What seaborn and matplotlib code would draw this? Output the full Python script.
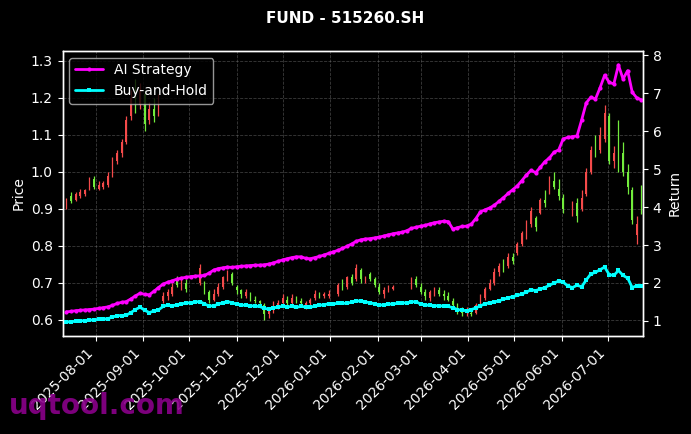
import numpy as np
import pandas as pd
import matplotlib
matplotlib.use("Agg")
import matplotlib.pyplot as plt
import matplotlib.dates as mdates
import seaborn as sns

# ---------------- data ----------------
start_date = "2025-07-13"
n_points = 126
step = "3D"

opens = [0.905, 0.935, 0.925, 0.935, 0.94, 0.955, 0.98, 0.955, 0.96, 0.965,
         0.99, 1.03, 1.05, 1.08, 1.15, 1.2, 1.18, 1.21, 1.14, 1.17,
         1.16, 0.65, 0.665, 0.67, 0.71, 0.695, 0.70, np.nan, np.nan, 0.70,
         0.70, 0.675, 0.655, 0.67, 0.69, 0.715, 0.725, 0.69, 0.68, 0.665,
         0.67, 0.655, 0.65, 0.64, 0.615, 0.625, 0.635, 0.645, 0.655, 0.645,
         0.66, 0.65, 0.64, 0.645, 0.66, 0.67, 0.665, 0.665, np.nan, 0.67,
         0.695, 0.69, 0.715, 0.71, 0.735, 0.705, 0.725, 0.71, 0.69, 0.67,
         0.68, 0.685, np.nan, np.nan, np.nan, 0.69, 0.71, 0.69, 0.675, 0.66,
         0.67, 0.68, 0.67, 0.665, 0.65, 0.635, 0.625, 0.618, 0.62, 0.62,
         0.64, 0.66, 0.685, 0.70, 0.73, 0.755, 0.745, 0.77, 0.78, 0.805,
         0.835, 0.86, 0.875, 0.89, 0.925, 0.95, 0.975, 0.955, 0.93, np.nan,
         0.89, 0.915, 0.90, 0.94, 1.0, 1.06, 1.06, 1.09, 1.15, 1.03,
         1.13, 1.05, 1.0, 0.95, 0.83, 0.95]

closes = [0.925, 0.92, 0.94, 0.945, 0.95, 0.975, 0.96, 0.965, 0.97, 0.99,
          1.03, 1.05, 1.08, 1.14, 1.2, 1.18, 1.22, 1.13, 1.17, 1.15,
          1.19, 0.665, 0.675, 0.69, 0.695, 0.70, 0.685, np.nan, np.nan, 0.74,
          0.675, 0.655, 0.67, 0.69, 0.715, 0.725, 0.70, 0.68, 0.67, 0.675,
          0.66, 0.65, 0.645, 0.615, 0.625, 0.64, 0.645, 0.66, 0.645, 0.66,
          0.65, 0.645, 0.645, 0.655, 0.67, 0.665, 0.67, 0.67, np.nan, 0.695,
          0.69, 0.715, 0.70, 0.74, 0.71, 0.715, 0.71, 0.695, 0.675, 0.68,
          0.69, 0.69, np.nan, np.nan, np.nan, 0.71, 0.695, 0.675, 0.665, 0.675,
          0.685, 0.67, 0.665, 0.655, 0.64, 0.625, 0.62, 0.625, 0.615, 0.64,
          0.665, 0.685, 0.70, 0.73, 0.745, 0.74, 0.77, 0.76, 0.805, 0.835,
          0.86, 0.895, 0.85, 0.925, 0.915, 0.985, 0.96, 0.935, 0.90, np.nan,
          0.91, 0.88, 0.93, 1.0, 1.06, 1.05, 1.1, 1.16, 1.03, 1.05,
          1.02, 1.0, 0.96, 0.87, 0.86, 0.90]

highs = [0.93, 0.945, 0.945, 0.955, 0.955, 0.985, 0.99, 0.975, 0.975, 1.0,
         1.04, 1.06, 1.09, 1.15, 1.22, 1.25, 1.24, 1.22, 1.19, 1.2,
         1.21, 0.675, 0.685, 0.70, 0.72, 0.715, 0.71, np.nan, np.nan, 0.75,
         0.705, 0.68, 0.685, 0.70, 0.72, 0.735, 0.73, 0.695, 0.685, 0.685,
         0.675, 0.665, 0.655, 0.645, 0.635, 0.65, 0.655, 0.67, 0.665, 0.67,
         0.665, 0.66, 0.65, 0.66, 0.68, 0.675, 0.675, 0.68, np.nan, 0.70,
         0.71, 0.72, 0.725, 0.75, 0.74, 0.72, 0.73, 0.715, 0.70, 0.69,
         0.695, 0.695, np.nan, np.nan, np.nan, 0.715, 0.72, 0.70, 0.685, 0.68,
         0.69, 0.69, 0.68, 0.675, 0.66, 0.645, 0.635, 0.635, 0.632, 0.645,
         0.67, 0.69, 0.71, 0.74, 0.755, 0.765, 0.78, 0.78, 0.81, 0.84,
         0.87, 0.905, 0.88, 0.93, 0.95, 0.99, 1.0, 0.98, 0.94, np.nan,
         0.92, 0.93, 0.95, 1.01, 1.07, 1.10, 1.12, 1.18, 1.16, 1.07,
         1.14, 1.08, 1.02, 0.96, 0.88, 0.965]

lows = [0.90, 0.915, 0.92, 0.93, 0.935, 0.95, 0.955, 0.95, 0.955, 0.96,
        0.985, 1.02, 1.04, 1.075, 1.14, 1.16, 1.17, 1.11, 1.13, 1.135,
        1.15, 0.645, 0.655, 0.665, 0.69, 0.68, 0.675, np.nan, np.nan, 0.695,
        0.67, 0.645, 0.65, 0.665, 0.685, 0.705, 0.695, 0.67, 0.66, 0.66,
        0.65, 0.645, 0.635, 0.60, 0.605, 0.62, 0.63, 0.64, 0.64, 0.64,
        0.645, 0.635, 0.63, 0.64, 0.655, 0.66, 0.66, 0.66, np.nan, 0.665,
        0.68, 0.685, 0.695, 0.705, 0.70, 0.70, 0.705, 0.69, 0.67, 0.66,
        0.675, 0.68, np.nan, np.nan, np.nan, 0.685, 0.69, 0.67, 0.655, 0.65,
        0.665, 0.665, 0.655, 0.65, 0.63, 0.615, 0.61, 0.612, 0.61, 0.617,
        0.635, 0.655, 0.68, 0.695, 0.72, 0.73, 0.74, 0.75, 0.775, 0.80,
        0.82, 0.85, 0.84, 0.885, 0.905, 0.94, 0.955, 0.925, 0.89, np.nan,
        0.88, 0.865, 0.895, 0.935, 0.995, 1.04, 1.05, 1.08, 1.02, 1.01,
        1.0, 0.99, 0.94, 0.86, 0.805, 0.885]

strategy_return = [1.24, 1.25, 1.27, 1.28, 1.29, 1.30, 1.31, 1.33, 1.35, 1.37,
                   1.41, 1.46, 1.49, 1.51, 1.58, 1.66, 1.73, 1.70, 1.69, 1.78,
                   1.88, 1.97, 2.02, 2.06, 2.10, 2.13, 2.15, 2.17, 2.18, 2.19,
                   2.20, 2.26, 2.34, 2.38, 2.40, 2.42, 2.41, 2.43, 2.44, 2.45,
                   2.46, 2.47, 2.47, 2.48, 2.50, 2.53, 2.57, 2.61, 2.64, 2.67,
                   2.69, 2.69, 2.65, 2.64, 2.67, 2.70, 2.74, 2.78, 2.82, 2.86,
                   2.91, 2.97, 3.03, 3.10, 3.14, 3.16, 3.17, 3.19, 3.21, 3.24,
                   3.27, 3.30, 3.32, 3.34, 3.38, 3.44, 3.47, 3.50, 3.52, 3.56,
                   3.59, 3.61, 3.63, 3.62, 3.42, 3.46, 3.49, 3.50, 3.55, 3.70,
                   3.88, 3.93, 3.98, 4.05, 4.15, 4.25, 4.36, 4.46, 4.56, 4.70,
                   4.85, 4.97, 4.91, 5.05, 5.20, 5.30, 5.45, 5.51, 5.80, 5.84,
                   5.86, 5.88, 6.30, 6.75, 6.90, 6.85, 7.15, 7.48, 7.29, 7.25,
                   7.75, 7.38, 7.60, 7.03, 6.88, 6.83]

buyhold_return = [0.97, 0.98, 0.99, 1.00, 1.01, 1.02, 1.03, 1.04, 1.05, 1.06,
                  1.10, 1.14, 1.14, 1.15, 1.22, 1.30, 1.36, 1.28, 1.22, 1.26,
                  1.29, 1.38, 1.42, 1.40, 1.42, 1.45, 1.47, 1.48, 1.50, 1.51,
                  1.45, 1.39, 1.40, 1.44, 1.48, 1.51, 1.48, 1.44, 1.42, 1.41,
                  1.40, 1.39, 1.38, 1.33, 1.31, 1.34, 1.37, 1.38, 1.37, 1.38,
                  1.36, 1.38, 1.37, 1.36, 1.39, 1.41, 1.43, 1.45, 1.45, 1.46,
                  1.46, 1.47, 1.49, 1.53, 1.52, 1.50, 1.48, 1.45, 1.42, 1.42,
                  1.44, 1.45, 1.46, 1.47, 1.48, 1.50, 1.51, 1.44, 1.42, 1.41,
                  1.40, 1.40, 1.39, 1.38, 1.35, 1.30, 1.28, 1.27, 1.30, 1.34,
                  1.40, 1.45, 1.48, 1.50, 1.53, 1.57, 1.61, 1.64, 1.67, 1.71,
                  1.76, 1.82, 1.80, 1.84, 1.88, 1.94, 2.00, 2.05, 2.02, 1.92,
                  1.88, 1.94, 1.90, 2.08, 2.24, 2.28, 2.35, 2.42, 2.22, 2.20,
                  2.33, 2.20, 2.13, 1.88, 1.93, 1.91]

# ---------------- styling ----------------
sns.set_theme(style="dark")
plt.rcParams.update({
    "figure.facecolor": "black",
    "axes.facecolor": "black",
    "savefig.facecolor": "black",
    "axes.edgecolor": "white",
    "text.color": "white",
    "axes.labelcolor": "white",
    "xtick.color": "white",
    "ytick.color": "white",
    "xtick.bottom": True,
    "ytick.left": True,
})
plt.rcParams["font.family"] = ["DejaVu Sans"]

dates = pd.date_range(start_date, periods=n_points, freq=step)
xnum = mdates.date2num(dates.to_pydatetime())

df = pd.DataFrame({"x": xnum, "open": opens, "close": closes,
                   "high": highs, "low": lows,
                   "strategy": strategy_return, "buyhold": buyhold_return})

fig = plt.figure(figsize=(6.91, 4.34), dpi=100)
ax1 = fig.add_axes([0.0905, 0.226, 0.840, 0.657])
ax2 = ax1.twinx()

UP = "#f44a4a"
DOWN = "#72ec3c"
c = df.dropna(subset=["open"])
cols = np.where(c["close"] >= c["open"], UP, DOWN)
ax1.vlines(c["x"], c["low"], c["high"], colors=cols, linewidth=0.9, zorder=2)
body = np.maximum((c["close"] - c["open"]).abs(), 0.002)
ax1.bar(c["x"], body, bottom=np.minimum(c["open"], c["close"]),
        width=1.15, color=cols, linewidth=0, zorder=3)

sns.lineplot(data=df, x="x", y="strategy", ax=ax2, color="#ff00ff",
             linewidth=2, marker="o", markersize=3, markeredgewidth=0,
             label="AI Strategy")
sns.lineplot(data=df, x="x", y="buyhold", ax=ax2, color="#00ffff",
             linewidth=2, marker="s", markersize=3, markeredgewidth=0,
             label="Buy-and-Hold")

x_lo = mdates.date2num(pd.Timestamp("2025-07-10 10:00").to_pydatetime())
x_hi = mdates.date2num(pd.Timestamp("2026-07-24 00:00").to_pydatetime())
ax1.set_xlim(x_lo, x_hi)
ax1.set_ylim(0.557, 1.327)
ax2.set_ylim(0.604, 8.124)
ax1.set_yticks([0.6, 0.7, 0.8, 0.9, 1.0, 1.1, 1.2, 1.3])
ax2.set_yticks([1, 2, 3, 4, 5, 6, 7, 8])

ax1.xaxis.set_major_locator(mdates.MonthLocator())
ax1.xaxis.set_major_formatter(mdates.DateFormatter("%Y-%m-%d"))
for lab in ax1.get_xticklabels():
    lab.set_rotation(45)
    lab.set_ha("right")
    lab.set_rotation_mode("default")

for ax in (ax1, ax2):
    ax.tick_params(labelsize=10, colors="white", length=3.5, width=0.8)
    for s in ax.spines.values():
        s.set_color("white")
        s.set_linewidth(1.0)
ax1.set_xlabel("")
ax2.set_xlabel("")
ax1.set_ylabel("Price", fontsize=10, color="white")
ax2.set_ylabel("Return", fontsize=10, color="white")

ax1.grid(True, linestyle="--", color="#777777", alpha=0.5, linewidth=0.6)
ax2.grid(False)

leg = ax2.legend(loc="upper left", fontsize=10, facecolor="black",
                 edgecolor="#bbbbbb", framealpha=0.8)
for t in leg.get_texts():
    t.set_color("white")

fig.suptitle("FUND - 515260.SH", fontsize=11, fontweight="bold",
             color="white", y=0.975)
fig.text(0.013, 0.045, "uqtool.com", fontsize=20, fontweight="bold",
         color="#8a008a", alpha=0.9, ha="left", va="baseline")

fig.savefig("out.png", dpi=100, facecolor="black")
